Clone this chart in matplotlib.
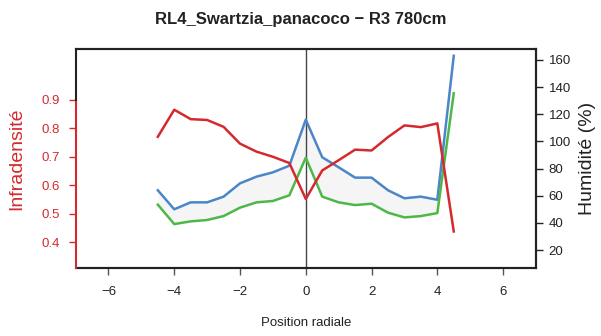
import numpy as np
import matplotlib.pyplot as plt

plt.rcParams['font.family'] = ['Liberation Sans', 'DejaVu Sans']

# positions radiales
position = [-4.5, -4.0, -3.5, -3.0, -2.5, -2.0, -1.5, -1.0, -0.5, 0.0,
            0.5, 1.0, 1.5, 2.0, 2.5, 3.0, 3.5, 4.0, 4.5]
# infradensite (axe gauche)
densite = [0.770, 0.865, 0.832, 0.829, 0.805, 0.746, 0.718, 0.700, 0.678, 0.552,
           0.652, 0.688, 0.725, 0.722, 0.769, 0.810, 0.804, 0.817, 0.438]
# humidite max / min (axe droit)
hum_haut = [64.0, 50.0, 55.1, 55.1, 59.3, 69.1, 74.0, 77.2, 82.1, 116.0,
            88.3, 80.9, 73.3, 73.3, 64.0, 58.1, 59.3, 57.0, 163.0]
hum_bas = [53.4, 39.1, 41.1, 42.1, 45.0, 51.2, 55.1, 56.1, 60.3, 88.0,
           59.3, 55.1, 53.1, 54.1, 47.5, 44.0, 45.0, 47.2, 135.4]

rouge = '#D42A2F'
bleu = '#4A86C8'
vert = '#4DB848'

fig = plt.figure(figsize=(6.01, 3.36), dpi=100)
ax = fig.add_axes([0.1258, 0.2033, 0.766, 0.6509])
ax2 = ax.twinx()

ax.set_xlim(-7, 7)
ax.set_ylim(0.311, 1.078)
ax2.set_ylim(7, 168)

# zone entre les deux courbes d'humidite
pos = np.array(position)
masque = pos <= 4.0
ax2.fill_between(pos[masque], np.array(hum_bas)[masque], np.array(hum_haut)[masque],
                 color='#f5f5f5', lw=0, zorder=1)
ax2.plot(position, hum_haut, color=bleu, lw=1.8, zorder=3)
ax2.plot(position, hum_bas, color=vert, lw=1.8, zorder=3)
ax2.axvline(0, color='#444444', lw=1, zorder=2)
ax2.plot(position, densite, color=rouge, lw=1.8, zorder=4,
         transform=ax.transData)

ax.set_xticks([-6, -4, -2, 0, 2, 4, 6])
ax.set_xticklabels(['\u22126', '\u22124', '\u22122', '0', '2', '4', '6'])
ax.set_yticks([0.4, 0.5, 0.6, 0.7, 0.8, 0.9])
ax2.set_yticks([20, 40, 60, 80, 100, 120, 140, 160])

ax.tick_params(axis='x', direction='out', length=5, width=1, color='#555555',
               labelsize=9.5, pad=8, labelcolor='#222222')
ax.tick_params(axis='y', direction='out', length=5, width=1, color=rouge,
               labelsize=9.5, pad=6, labelcolor=rouge)
ax2.tick_params(axis='y', direction='out', length=5, width=1, color='#222222',
                labelsize=9.5, pad=4, labelcolor='#222222')

for a in (ax, ax2):
    for s in a.spines.values():
        s.set_linewidth(1.5)
        s.set_color('#222222')
ax2.spines['left'].set_visible(False)
ax.spines['left'].set_visible(False)
# axe gauche : rouge jusqu'a 0.9, noir au dessus
ax2.plot([-7, -7], [0.311, 0.9], color=rouge, lw=1.5, clip_on=False, zorder=6,
         transform=ax.transData)
ax2.plot([-7, -7], [0.9, 1.078], color='#222222', lw=1.5, clip_on=False, zorder=6,
         transform=ax.transData)

ax.set_ylabel('Infradensité', color=rouge, fontsize=14, labelpad=12)
ax2.set_ylabel('Humidité (%)', color='#222222', fontsize=14, labelpad=6)
ax.set_xlabel('Position radiale', fontsize=9.5, labelpad=14, color='#222222')
fig.suptitle('RL4_Swartzia_panacoco \u2212 R3 780cm', fontsize=12, fontweight='bold',
             y=0.965, color='#222222')

fig.savefig('out.png', dpi=100)
